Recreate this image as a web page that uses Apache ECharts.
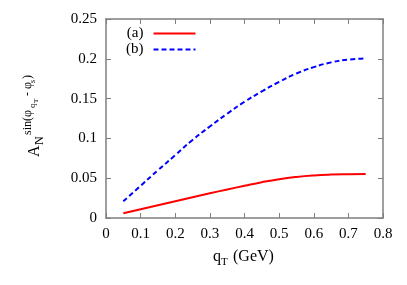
<!DOCTYPE html>
<html><head><meta charset="utf-8">
<script src="https://cdn.jsdelivr.net/npm/echarts@6/dist/echarts.min.js"></script>
<style>html,body{margin:0;padding:0;background:#fff}#c{width:407px;height:285px}</style>
</head><body><div id="c"></div>
<script>
var qT = [0.05, 0.1, 0.15, 0.2, 0.25, 0.3, 0.35, 0.4, 0.45, 0.5, 0.55, 0.6, 0.65, 0.7, 0.75];
var seriesA = [0.006, 0.011, 0.016, 0.021, 0.026, 0.031, 0.0358, 0.0405, 0.045, 0.0488, 0.0516, 0.0535, 0.0546, 0.0551, 0.0553];
var seriesB = [0.021, 0.0405, 0.060, 0.079, 0.098, 0.115, 0.131, 0.146, 0.159, 0.171, 0.1815, 0.1895, 0.1955, 0.199, 0.2006];
var xTicks = ['0', '0.1', '0.2', '0.3', '0.4', '0.5', '0.6', '0.7', '0.8'];
var yTicks = ['0', '0.05', '0.1', '0.15', '0.2', '0.25'];
var names = ['(a)', '(b)'];

var FF = '"Liberation Serif", "DejaVu Serif", serif';
var AX = '#7f7f7f';
function pairs(xs, ys){ return xs.map(function(x,i){ return [x, ys[i]]; }); }
function axBase(show){
  return {
    axisLine:{show:true, onZero:false, lineStyle:{color:AX, width:1.5}},
    axisTick:{show:true, inside:true, length:5, lineStyle:{color:AX, width:1}},
    splitLine:{show:false},
    axisLabel:{show:show, color:'#000', fontFamily:FF, fontSize:15}
  };
}
var gx = 106, gy = 19, gr = 24, gb = 67;
var xB = axBase(true), xT = axBase(false), yL = axBase(true), yR = axBase(false);
var chart = echarts.init(document.getElementById('c'), null, {renderer:'canvas'});
chart.setOption({
  animation:false,
  grid:{left:gx, top:gy, right:gr, bottom:gb, containLabel:false},
  xAxis:[
    Object.assign({type:'value', min:0, max:0.8, interval:0.1, position:'bottom'}, xB, {
      axisLabel:Object.assign({}, xB.axisLabel, {margin:9, formatter:function(v){ return xTicks[Math.round(v/0.1)]; }})}),
    Object.assign({type:'value', min:0, max:0.8, interval:0.1, position:'top'}, xT)
  ],
  yAxis:[
    Object.assign({type:'value', min:0, max:0.25, interval:0.05, position:'left'}, yL, {
      axisLabel:Object.assign({}, yL.axisLabel, {margin:9, formatter:function(v){ return yTicks[Math.round(v/0.05)]; }})}),
    Object.assign({type:'value', min:0, max:0.25, interval:0.05, position:'right'}, yR)
  ],
  legend:{
    data:names, orient:'vertical', left:121, top:21, align:'right',
    itemWidth:42, itemHeight:8, itemGap:1,
    itemStyle:{opacity:0, borderWidth:0},
    textStyle:{fontFamily:FF, fontSize:15, color:'#000', padding:[0,5,0,0]}
  },
  series:[
    {name:names[0], type:'line', data:pairs(qT, seriesA), smooth:true, symbol:'none',
     lineStyle:{color:'#ff0000', width:2}, itemStyle:{color:'#ff0000'}},
    {name:names[1], type:'line', data:pairs(qT, seriesB), smooth:true, symbol:'none',
     lineStyle:{color:'#0000ff', width:2, type:[5,3]}, itemStyle:{color:'#0000ff'}}
  ],
  graphic:[
    {type:'group', x:43, y:157, rotation:Math.PI/2, children:[
      {type:'text', x:0, y:0, style:{text:'A', font:'16px '+FF, fill:'#000', verticalAlign:'bottom'}},
      {type:'text', x:12, y:3, style:{text:'N', font:'12px '+FF, fill:'#000', verticalAlign:'bottom'}},
      {type:'text', x:22, y:-9, style:{text:'sin(φ', font:'12px '+FF, fill:'#000', verticalAlign:'bottom'}},
      {type:'text', x:49, y:-6, style:{text:'q', font:'9px '+FF, fill:'#000', verticalAlign:'bottom'}},
      {type:'text', x:54, y:-3, style:{text:'T', font:'7px '+FF, fill:'#000', verticalAlign:'bottom'}},
      {type:'text', x:58, y:-9, style:{text:' - φ', font:'12px '+FF, fill:'#000', verticalAlign:'bottom'}},
      {type:'text', x:74, y:-6, style:{text:'s', font:'8px '+FF, fill:'#000', verticalAlign:'bottom'}},
      {type:'text', x:78, y:-9, style:{text:')', font:'12px '+FF, fill:'#000', verticalAlign:'bottom'}}
    ]},
    {type:'group', x:213, y:265, children:[
      {type:'text', x:0, y:0, style:{text:'q', font:'16px '+FF, fill:'#000', verticalAlign:'bottom'}},
      {type:'text', x:8, y:3, style:{text:'T', font:'11px '+FF, fill:'#000', verticalAlign:'bottom'}},
      {type:'text', x:20, y:0, style:{text:'(GeV)', font:'16px '+FF, fill:'#000', verticalAlign:'bottom'}}
    ]}
  ]
});
</script></body></html>
